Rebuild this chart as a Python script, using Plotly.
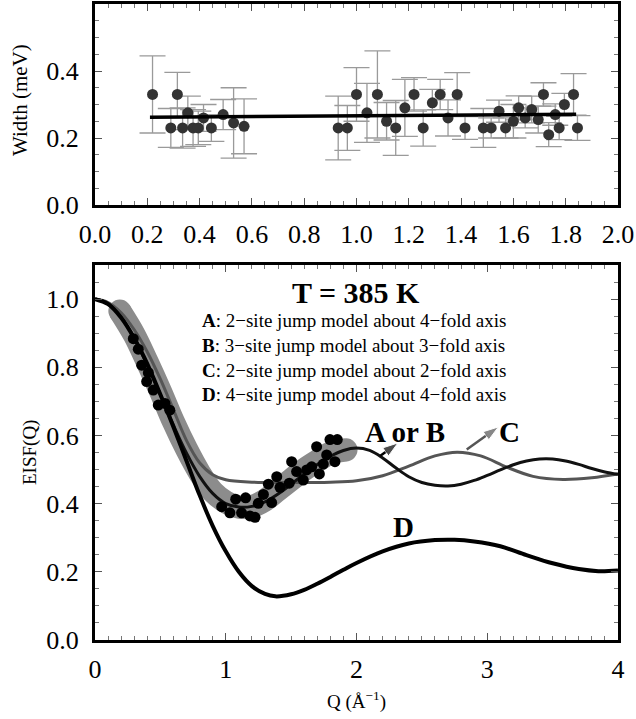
import plotly.graph_objects as go

FONT = "Liberation Serif, Times New Roman, serif"

# ---------------- Top panel data: width vs Q ----------------
top_q = [0.22, 0.29, 0.315, 0.335, 0.355, 0.375, 0.395, 0.415, 0.445, 0.49, 0.53, 0.57,
         0.93, 0.965, 1.0, 1.04, 1.08, 1.115, 1.15, 1.185, 1.22, 1.255, 1.29, 1.32, 1.35,
         1.385, 1.415, 1.485, 1.515, 1.545, 1.57, 1.6, 1.62, 1.645, 1.67, 1.695, 1.715,
         1.735, 1.76, 1.775, 1.795, 1.83, 1.845]
top_w = [0.33, 0.23, 0.33, 0.23, 0.275, 0.23, 0.23, 0.26, 0.23, 0.27, 0.245, 0.235,
         0.23, 0.23, 0.33, 0.275, 0.33, 0.25, 0.23, 0.29, 0.33, 0.23, 0.305, 0.33, 0.26,
         0.33, 0.23, 0.23, 0.23, 0.28, 0.23, 0.25, 0.29, 0.26, 0.285, 0.255, 0.33,
         0.21, 0.27, 0.23, 0.30, 0.33, 0.23]
top_err = [0.115, 0.058, 0.066, 0.06, 0.05, 0.055, 0.05, 0.04, 0.04, 0.045, 0.105, 0.082,
           0.095, 0.067, 0.08, 0.088, 0.13, 0.056, 0.082, 0.085, 0.05, 0.054, 0.04, 0.045, 0.054,
           0.065, 0.034, 0.058, 0.03, 0.033, 0.03, 0.05, 0.036, 0.03, 0.04, 0.04, 0.035,
           0.036, 0.032, 0.035, 0.033, 0.062, 0.037]
fit_q = [0.21, 1.84]
fit_w = [0.262, 0.271]

# ---------------- Bottom panel data: EISF vs Q ----------------
eisf_q = [0.293, 0.331, 0.357, 0.395, 0.408, 0.446, 0.484, 0.535, 0.572,
          0.969, 1.032, 1.076, 1.121, 1.152, 1.185, 1.224, 1.249, 1.288, 1.326, 1.351,
          1.39, 1.415, 1.486, 1.504, 1.542, 1.593, 1.619, 1.657, 1.695, 1.716, 1.746,
          1.772, 1.797, 1.835, 1.853]
eisf_v = [0.884, 0.853, 0.806, 0.758, 0.784, 0.733, 0.689, 0.694, 0.674,
          0.391, 0.373, 0.413, 0.373, 0.417, 0.364, 0.36, 0.401, 0.427, 0.457, 0.403,
          0.479, 0.448, 0.46, 0.523, 0.494, 0.469, 0.499, 0.508, 0.567, 0.487, 0.516,
          0.543, 0.588, 0.523, 0.588]

band_q = [0.19, 0.3, 0.4, 0.5, 0.6, 0.7, 0.8, 0.9, 1.0, 1.1, 1.2, 1.3, 1.4, 1.5, 1.6, 1.7, 1.8, 1.92]
band_v = [0.965, 0.895, 0.815, 0.73, 0.64, 0.56, 0.49, 0.435, 0.405, 0.39, 0.392, 0.41, 0.44,
          0.47, 0.50, 0.525, 0.548, 0.558]

ab_q = [0, 0.1, 0.2, 0.3, 0.4, 0.5, 0.6, 0.7, 0.8, 0.9, 1.0, 1.1, 1.2, 1.3, 1.4, 1.5, 1.6,
        1.7, 1.8, 1.9, 2.0, 2.1, 2.2, 2.3, 2.4, 2.5, 2.6, 2.7, 2.8, 2.9, 3.0, 3.1, 3.2,
        3.3, 3.4, 3.5, 3.6, 3.7, 3.8, 3.9, 4.0]
ab_v = [1.0, 0.987, 0.947, 0.885, 0.806, 0.719, 0.63, 0.548, 0.48, 0.43, 0.40, 0.39, 0.392,
        0.405, 0.428, 0.457, 0.487, 0.515, 0.539, 0.556, 0.563, 0.556, 0.534, 0.505, 0.479,
        0.462, 0.454, 0.452, 0.457, 0.468, 0.483, 0.499, 0.514, 0.525, 0.531, 0.531, 0.525,
        0.515, 0.503, 0.493, 0.486]

c_q = [0, 0.1, 0.2, 0.3, 0.4, 0.5, 0.6, 0.7, 0.8, 0.9, 1.0, 1.2, 1.5, 1.8, 2.0, 2.2, 2.4,
       2.6, 2.77, 2.95, 3.15, 3.35, 3.58, 3.8, 4.0]
c_v = [1.0, 0.99, 0.96, 0.91, 0.845, 0.765, 0.675, 0.585, 0.52, 0.485, 0.47, 0.463, 0.462,
       0.463, 0.467, 0.482, 0.51, 0.54, 0.551, 0.54, 0.507, 0.48, 0.471, 0.476, 0.487]

d_q = [0, 0.1, 0.2, 0.3, 0.4, 0.5, 0.6, 0.7, 0.8, 0.9, 1.0, 1.1, 1.2, 1.3, 1.38, 1.5, 1.6,
       1.7, 1.8, 1.9, 2.0, 2.2, 2.4, 2.6, 2.75, 2.9, 3.1, 3.3, 3.5, 3.7, 3.85, 4.0]
d_v = [1.0, 0.985, 0.945, 0.885, 0.81, 0.72, 0.625, 0.525, 0.425, 0.335, 0.26, 0.20, 0.158,
       0.135, 0.128, 0.134, 0.147, 0.165, 0.185, 0.206, 0.226, 0.26, 0.283, 0.293, 0.294,
       0.289, 0.275, 0.249, 0.225, 0.208, 0.202, 0.204]

# arrows: tail -> head, in data units of the lower panel
arrow_ab_q = [2.18, 2.317]
arrow_ab_v = [0.54, 0.578]
arrow_c_q = [2.843, 3.085]
arrow_c_v = [0.559, 0.625]

top_xticks = [0.0, 0.2, 0.4, 0.6, 0.8, 1.0, 1.2, 1.4, 1.6, 1.8, 2.0]
top_yticks = [0.0, 0.2, 0.4]
bot_xticks = [0, 1, 2, 3, 4]
bot_yticks = [0.0, 0.2, 0.4, 0.6, 0.8, 1.0]

legend_lines = [
    ("A", "2−site jump model about 4−fold axis"),
    ("B", "3−site jump model about 3−fold axis"),
    ("C", "2−site jump model about 2−fold axis"),
    ("D", "4−site jump model about 4−fold axis"),
]

# ---------------- Geometry ----------------
W, H = 636, 719
L, R, T, B = 95, 18, 4, 79
PW, PH = W - L - R, H - T - B


def px(xp):
    return (xp - L) / PW


def py(yp):
    return (H - B - yp) / PH


fig = go.Figure()

# Top panel
fig.add_trace(go.Scatter(
    x=top_q, y=top_w, mode="markers",
    marker=dict(color="#333333", size=11),
    error_y=dict(type="data", array=top_err, visible=True, color="#9a9a9a",
                 thickness=1.3, width=13),
    xaxis="x", yaxis="y", showlegend=False, hoverinfo="skip"))
fig.add_trace(go.Scatter(
    x=fit_q, y=fit_w, mode="lines", line=dict(color="black", width=3.5),
    xaxis="x", yaxis="y", showlegend=False, hoverinfo="skip"))

# Bottom panel
fig.add_trace(go.Scatter(
    x=band_q, y=band_v, mode="lines", line=dict(color="#8c8c8c", width=23, shape="spline"),
    xaxis="x2", yaxis="y2", showlegend=False, hoverinfo="skip"))
fig.add_trace(go.Scatter(
    x=[band_q[0], band_q[-1]], y=[band_v[0], band_v[-1]], mode="markers",
    marker=dict(color="#8c8c8c", size=23),
    xaxis="x2", yaxis="y2", showlegend=False, hoverinfo="skip"))
fig.add_trace(go.Scatter(
    x=c_q, y=c_v, mode="lines", line=dict(color="#555555", width=3, shape="spline"),
    xaxis="x2", yaxis="y2", showlegend=False, hoverinfo="skip"))
fig.add_trace(go.Scatter(
    x=ab_q, y=ab_v, mode="lines", line=dict(color="#111111", width=3, shape="spline"),
    xaxis="x2", yaxis="y2", showlegend=False, hoverinfo="skip"))
fig.add_trace(go.Scatter(
    x=d_q, y=d_v, mode="lines", line=dict(color="black", width=4, shape="spline"),
    xaxis="x2", yaxis="y2", showlegend=False, hoverinfo="skip"))
fig.add_trace(go.Scatter(
    x=eisf_q, y=eisf_v, mode="markers", marker=dict(color="black", size=11),
    xaxis="x2", yaxis="y2", showlegend=False, hoverinfo="skip"))

# Arrows as line + arrowhead markers
for aq, av, col in [(arrow_ab_q, arrow_ab_v, "black"), (arrow_c_q, arrow_c_v, "#555555")]:
    fig.add_trace(go.Scatter(
        x=aq, y=av, mode="lines+markers",
        line=dict(color=col, width=2.5),
        marker=dict(symbol="arrow", size=[0, 16], angleref="previous", color=col),
        xaxis="x2", yaxis="y2", showlegend=False, hoverinfo="skip"))

axis_common = dict(showline=True, linewidth=3, linecolor="black", mirror="ticks",
                   ticks="inside", ticklen=7, tickwidth=1, tickcolor="#555555",
                   showgrid=False, zeroline=False, automargin=False, fixedrange=True,
                   tickfont=dict(family=FONT, size=26, color="black"))

top_dom = [py(205), 1.0]
bot_dom = [0.0, py(265)]

fig.update_layout(
    width=W, height=H,
    margin=dict(l=L, r=R, t=T, b=B),
    font=dict(family=FONT, color="black"),
    paper_bgcolor="white", plot_bgcolor="white",
    xaxis=dict(domain=[0, 1], range=[0, 2.0], tickvals=top_xticks,
               ticktext=[f"{v:.1f}" for v in top_xticks], anchor="y",
               minor=dict(ticks="inside", dtick=0.05, tick0=0, ticklen=4, tickcolor="#777777"),
               ticklabelstandoff=4, **axis_common),
    yaxis=dict(domain=top_dom, range=[0, 0.6], tickvals=top_yticks,
               ticktext=[f"{v:.1f}" for v in top_yticks], anchor="x",
               minor=dict(ticks="inside", dtick=0.05, tick0=0, ticklen=4, tickcolor="#777777"),
               ticklabelstandoff=8, **axis_common),
    xaxis2=dict(domain=[0, 1], range=[0, 4], tickvals=bot_xticks,
                ticktext=[str(v) for v in bot_xticks], anchor="y2",
                minor=dict(ticks="inside", dtick=0.1, tick0=0, ticklen=4, tickcolor="#777777"),
                ticklabelstandoff=4, **axis_common),
    yaxis2=dict(domain=bot_dom, range=[0, 1.1], tickvals=bot_yticks,
                ticktext=[f"{v:.1f}" for v in bot_yticks], anchor="x2",
                minor=dict(ticks="inside", dtick=0.05, tick0=0, ticklen=4, tickcolor="#777777"),
                ticklabelstandoff=8, **axis_common),
)

ann = []
# Axis titles
ann.append(dict(text="Width (meV)", xref="paper", yref="paper", x=px(20), y=py(100),
                textangle=-90, showarrow=False, xanchor="center", yanchor="middle",
                font=dict(family=FONT, size=21, color="black")))
ann.append(dict(text="EISF(Q)", xref="paper", yref="paper", x=px(30), y=py(453),
                textangle=-90, showarrow=False, xanchor="center", yanchor="middle",
                font=dict(family=FONT, size=19, color="black")))
ann.append(dict(text="Q (Å<sup>−1</sup>)", xref="paper", yref="paper", x=px(356), y=py(700),
                showarrow=False, xanchor="center", yanchor="middle",
                font=dict(family=FONT, size=19, color="black")))
# Title in bottom panel
ann.append(dict(text="<b>T = 385 K</b>", xref="paper", yref="paper", x=px(356), y=py(293),
                showarrow=False, xanchor="center", yanchor="middle",
                font=dict(family=FONT, size=30, color="black")))
line_y = [321, 345, 371, 395]
for (letter, desc), yy in zip(legend_lines, line_y):
    ann.append(dict(text=f"<b>{letter}</b>: {desc}", xref="paper", yref="paper",
                    x=px(200), y=py(yy), showarrow=False, xanchor="left", yanchor="middle",
                    font=dict(family=FONT, size=19, color="black")))
# Curve labels
ann.append(dict(text="<b>A or B</b>", xref="x2", yref="y2", x=2.37, y=(640 - 432) / 341,
                showarrow=False, xanchor="center", yanchor="middle",
                font=dict(family=FONT, size=29, color="black")))
ann.append(dict(text="<b>C</b>", xref="x2", yref="y2", x=3.17, y=(640 - 432) / 341,
                showarrow=False, xanchor="center", yanchor="middle",
                font=dict(family=FONT, size=29, color="black")))
ann.append(dict(text="<b>D</b>", xref="x2", yref="y2", x=2.36, y=(640 - 527) / 341,
                showarrow=False, xanchor="center", yanchor="middle",
                font=dict(family=FONT, size=29, color="black")))
fig.update_layout(annotations=ann)

fig.write_html("out.html", config={"displayModeBar": False, "staticPlot": True},
               post_script="document.body.style.margin='0';document.body.style.overflow='hidden';")
